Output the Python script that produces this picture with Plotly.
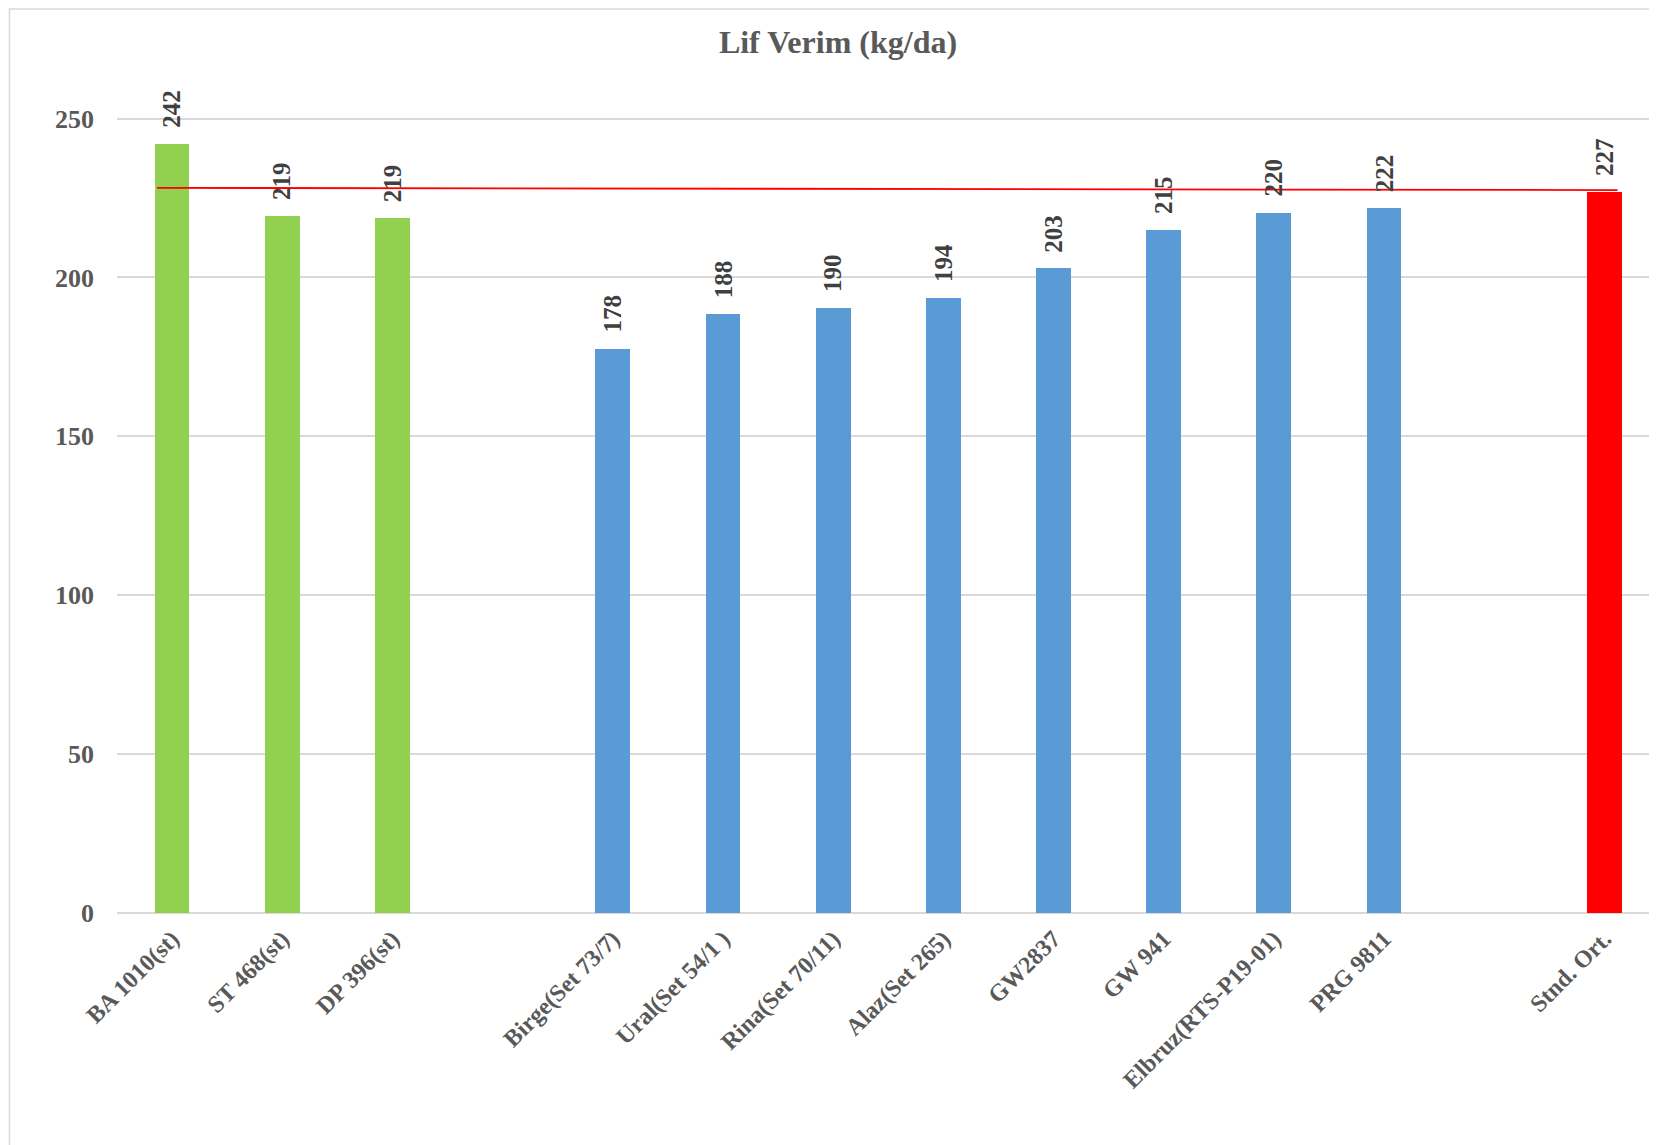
import plotly.graph_objects as go

# ---- data ----
categories = ["BA 1010(st)", "ST 468(st)", "DP 396(st)", " ",
              "Birge(Set 73/7)", "Ural(Set 54/1 )", "Rina(Set 70/11)", "Alaz(Set 265)",
              "GW2837", "GW 941", "Elbruz(RTS-P19-01)", "PRG 9811", "  ", "Stnd. Ort."]

std_names = ["BA 1010(st)", "ST 468(st)", "DP 396(st)"]
std_values = [242.1, 219.4, 218.8]

line_names = ["Birge(Set 73/7)", "Ural(Set 54/1 )", "Rina(Set 70/11)", "Alaz(Set 265)",
              "GW2837", "GW 941", "Elbruz(RTS-P19-01)", "PRG 9811"]
line_values = [177.6, 188.4, 190.4, 193.6, 202.9, 214.8, 220.4, 221.8]

avg_names = ["Stnd. Ort."]
avg_values = [227.0]

# reference line (drawn from left of first bar to right of last bar)
ref_line_x = [-0.136, 13.12]
ref_line_y = [228.2, 227.5]

y_ticks = [0, 50, 100, 150, 200, 250]
title_text = "Lif Verim (kg/da)"

FONT = "Liberation Serif"
GREEN = "#92D050"
BLUE = "#5B9BD5"
RED = "#FF0000"
TICK_COLOR = "#595959"
LABEL_COLOR = "#404040"
GRID = "#D9D9D9"

W, H = 1657, 1145
ML, MR, MT, MB = 108.6, 8, 47, 240

fig = go.Figure()
for names, vals, col in [(std_names, std_values, GREEN),
                         (line_names, line_values, BLUE),
                         (avg_names, avg_values, RED)]:
    fig.add_trace(go.Bar(x=names, y=vals, marker=dict(color=col, line=dict(width=0)),
                         width=0.316, showlegend=False, hoverinfo="x+y"))

# data labels
for names, vals in [(std_names, std_values), (line_names, line_values), (avg_names, avg_values)]:
    for n, v in zip(names, vals):
        fig.add_annotation(x=n, y=v, text=f"{v:.0f}", showarrow=False, textangle=-90,
                           xanchor="center", yanchor="bottom", yshift=14,
                           font=dict(family=FONT, size=25, color=LABEL_COLOR, weight="bold"))

# red reference line
fig.add_shape(type="line", xref="x", yref="y",
              x0=ref_line_x[0], x1=ref_line_x[1], y0=ref_line_y[0], y1=ref_line_y[1],
              line=dict(color=RED, width=1.8), layer="above")

# chart border (light gray frame, partially cropped)
plot_w = W - ML - MR
plot_h = H - MT - MB
fig.add_shape(type="rect", xref="paper", yref="paper",
              x0=(1 - ML) / plot_w, x1=1.2,
              y0=-0.5, y1=(H - MB - 1) / plot_h,
              line=dict(color=GRID, width=1.5), fillcolor="rgba(0,0,0,0)", layer="below")

fig.update_layout(
    width=W, height=H,
    margin=dict(l=ML, r=MR, t=MT, b=MB, autoexpand=False),
    paper_bgcolor="white", plot_bgcolor="white",
    title=dict(text=title_text, x=830 / W, xanchor="center", y=1 - 34 / H, yanchor="middle",
               font=dict(family=FONT, size=32, color=TICK_COLOR, weight="bold")),
    bargap=0,
    xaxis=dict(type="category", categoryorder="array", categoryarray=categories,
               range=[-0.5, 13.478], showgrid=False, showline=False, zeroline=False,
               tickangle=-45, ticks="", ticklabelstandoff=6,
               tickfont=dict(family=FONT, size=24, color=TICK_COLOR, weight="bold")),
    yaxis=dict(range=[0, 270], tickvals=y_ticks, showgrid=True, gridcolor=GRID, gridwidth=1.5,
               zeroline=True, zerolinecolor=GRID, zerolinewidth=1.5, showline=False,
               ticks="", ticklabelstandoff=22,
               tickfont=dict(family=FONT, size=26, color=TICK_COLOR, weight="bold")),
)

fig.write_html("out.html")
